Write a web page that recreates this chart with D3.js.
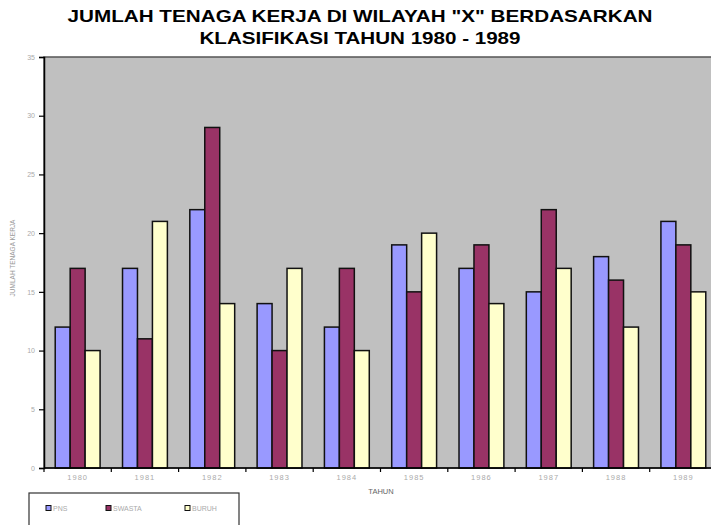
<!DOCTYPE html>
<html>
<head>
<meta charset="utf-8">
<script src="https://cdn.jsdelivr.net/npm/d3@7"></script>
<style>
  body { margin: 0; background: #fff; }
  svg { display: block; font-family: "Liberation Sans", Arial, sans-serif; }
</style>
</head>
<body>
<div id="chart"></div>
<script>
var years = ["1980", "1981", "1982", "1983", "1984", "1985", "1986", "1987", "1988", "1989"];
var seriesNames = ["PNS", "SWASTA", "BURUH"];
var pnsValues = [12, 17, 22, 14, 12, 19, 17, 15, 18, 21];
var swastaValues = [17, 11, 29, 10, 17, 15, 19, 22, 16, 19];
var buruhValues = [10, 21, 14, 17, 10, 20, 14, 17, 12, 15];
var yTicks = [0, 5, 10, 15, 20, 25, 30, 35];

var width = 711, height = 525;
var plot = { left: 44, top: 57, right: 717, bottom: 468 };

var color = d3.scaleOrdinal()
  .domain(seriesNames)
  .range(["#9999FF", "#993366", "#FFFFCC"]);

var rows = years.map(function (y, i) {
  return { year: y, values: [pnsValues[i], swastaValues[i], buruhValues[i]] };
});

var svg = d3.select("#chart").append("svg")
  .attr("width", width)
  .attr("height", height);

var x0 = d3.scaleBand().domain(years).range([plot.left, plot.right]).padding(0);
var x1 = d3.scaleBand().domain(seriesNames).range([0, x0.bandwidth()])
  .paddingInner(0).paddingOuter(0.75);
var y = d3.scaleLinear().domain([0, 35]).range([plot.bottom, plot.top]);

// title
var title = svg.append("text")
  .attr("text-anchor", "middle")
  .attr("font-weight", "bold")
  .attr("font-size", "17px")
  .attr("fill", "#000");
title.append("tspan").attr("x", 360).attr("y", 22)
  .attr("textLength", 585).attr("lengthAdjust", "spacingAndGlyphs")
  .text('JUMLAH TENAGA KERJA DI WILAYAH "X" BERDASARKAN');
title.append("tspan").attr("x", 360).attr("y", 44)
  .attr("textLength", 321).attr("lengthAdjust", "spacingAndGlyphs")
  .text("KLASIFIKASI TAHUN 1980 - 1989");

// plot background
svg.append("rect")
  .attr("x", plot.left)
  .attr("y", plot.top)
  .attr("width", plot.right - plot.left)
  .attr("height", plot.bottom - plot.top)
  .attr("fill", "#C0C0C0")
  .attr("stroke", "#555")
  .attr("stroke-width", 1.5);

// bars
var groups = svg.append("g").selectAll("g")
  .data(rows)
  .join("g")
  .attr("transform", function (d) { return "translate(" + x0(d.year) + ",0)"; });

groups.selectAll("rect")
  .data(function (d) {
    return d.values.map(function (v, i) { return { key: seriesNames[i], value: v }; });
  })
  .join("rect")
  .attr("x", function (d) { return x1(d.key); })
  .attr("y", function (d) { return y(d.value); })
  .attr("width", x1.bandwidth())
  .attr("height", function (d) { return y(0) - y(d.value); })
  .attr("fill", function (d) { return color(d.key); })
  .attr("stroke", "#111")
  .attr("stroke-width", 1.5);

// y axis
var yAxis = svg.append("g")
  .attr("transform", "translate(" + plot.left + ",0)")
  .call(d3.axisLeft(y).tickValues(yTicks).tickSize(5).tickPadding(4));
yAxis.select(".domain").attr("stroke", "#000").attr("stroke-width", 1.5);
yAxis.selectAll(".tick line").attr("stroke", "#000").attr("stroke-width", 1.2);
yAxis.selectAll(".tick text").attr("fill", "#aaa").attr("font-size", "7px");

// x axis with ticks at category boundaries
var xAxis = svg.append("g")
  .attr("transform", "translate(0," + plot.bottom + ")");
xAxis.append("line")
  .attr("x1", plot.left).attr("x2", plot.right)
  .attr("stroke", "#000").attr("stroke-width", 1.5);
xAxis.selectAll("line.tick")
  .data(years)
  .join("line")
  .attr("class", "tick")
  .attr("x1", function (d) { return x0(d); })
  .attr("x2", function (d) { return x0(d); })
  .attr("y1", 0).attr("y2", 4)
  .attr("stroke", "#000").attr("stroke-width", 1.2);
xAxis.selectAll("text")
  .data(years)
  .join("text")
  .attr("x", function (d) { return x0(d) + x0.bandwidth() / 2; })
  .attr("y", 12)
  .attr("text-anchor", "middle")
  .attr("fill", "#aaa")
  .attr("font-size", "7.5px")
  .attr("letter-spacing", "1px")
  .text(function (d) { return d; });

// axis titles
svg.append("text")
  .attr("x", 381).attr("y", 494)
  .attr("text-anchor", "middle")
  .attr("fill", "#666")
  .attr("font-size", "7.5px")
  .text("TAHUN");

svg.append("text")
  .attr("transform", "translate(15,258) rotate(-90)")
  .attr("text-anchor", "middle")
  .attr("fill", "#999")
  .attr("font-size", "6.5px")
  .text("JUMLAH TENAGA KERJA");

// legend
var legend = svg.append("g");
legend.append("rect")
  .attr("x", 29).attr("y", 493)
  .attr("width", 210).attr("height", 40)
  .attr("fill", "#fff")
  .attr("stroke", "#333")
  .attr("stroke-width", 1.2);

var legendX = [46, 106, 185];
var items = legend.selectAll("g.item")
  .data(seriesNames)
  .join("g")
  .attr("class", "item")
  .attr("transform", function (d, i) { return "translate(" + legendX[i] + ",508)"; });
items.append("rect")
  .attr("x", 0).attr("y", -2.5)
  .attr("width", 5).attr("height", 5)
  .attr("fill", function (d) { return color(d); })
  .attr("stroke", "#111")
  .attr("stroke-width", 1);
items.append("text")
  .attr("x", 7).attr("y", 2.5)
  .attr("fill", "#aaa")
  .attr("font-size", "7px")
  .text(function (d) { return d; });
</script>
</body>
</html>
